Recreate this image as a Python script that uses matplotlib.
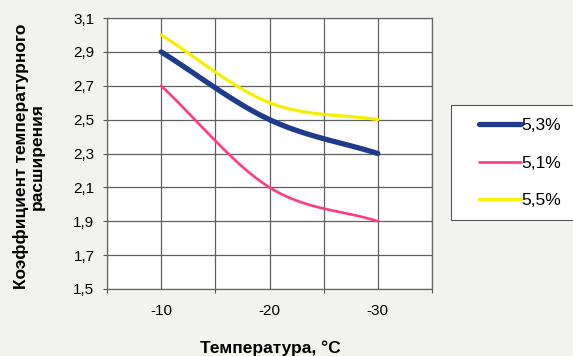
import numpy as np
import matplotlib
matplotlib.use("Agg")
import matplotlib.pyplot as plt
from matplotlib.patches import Rectangle

categories = ["-10", "-20", "-30"]
series_names = ["5,3%", "5,1%", "5,5%"]
s53 = [2.9, 2.5, 2.3]
s51 = [2.7, 2.1, 1.9]
s55 = [3.0, 2.6, 2.5]
yticks = [1.5, 1.7, 1.9, 2.1, 2.3, 2.5, 2.7, 2.9, 3.1]
ytick_labels = ["1,5", "1,7", "1,9", "2,1", "2,3", "2,5", "2,7", "2,9", "3,1"]

plt.rcParams['font.family'] = ['Liberation Sans', 'DejaVu Sans']


def smooth(x, y, n=40):
    # Catmull-Rom spline through points (like Excel smoothed line)
    x = np.asarray(x, float); y = np.asarray(y, float)
    px = np.concatenate([[2 * x[0] - x[1]], x, [2 * x[-1] - x[-2]]])
    py = np.concatenate([[2 * y[0] - y[1]], y, [2 * y[-1] - y[-2]]])
    xs, ys = [], []
    for i in range(1, len(px) - 2):
        t = np.linspace(0, 1, n)
        for arr, out in ((px, xs), (py, ys)):
            p0, p1, p2, p3 = arr[i - 1], arr[i], arr[i + 1], arr[i + 2]
            out.extend(0.5 * ((2 * p1) + (-p0 + p2) * t
                              + (2 * p0 - 5 * p1 + 4 * p2 - p3) * t ** 2
                              + (-p0 + 3 * p1 - 3 * p2 + p3) * t ** 3))
    return np.array(xs), np.array(ys)


fig = plt.figure(figsize=(5.73, 3.56), dpi=100)
fig.patch.set_facecolor('#f2f2f0')
ax = fig.add_axes([107 / 573, 1 - 289 / 356, (432 - 107) / 573, (289 - 18) / 356])
ax.set_facecolor('white')

x = np.arange(len(categories))
colors = ['#1f3c8c', '#ff3c7d', '#f4f000']
widths = [3.8, 1.9, 2.3]
for vals, name, c, lw in zip([s53, s51, s55], series_names, colors, widths):
    sx, sy = smooth(x, vals)
    ax.plot(sx, sy, color=c, lw=lw, label=name, solid_capstyle='round', zorder=3)

ax.set_xlim(-0.5, 2.5)
ax.set_ylim(1.5, 3.1)
ax.set_yticks(yticks)
ax.set_yticklabels(ytick_labels)
ax.set_xticks([-0.5, 0.5, 1.5, 2.5], minor=False)
ax.set_xticklabels([])
ax.set_xticks(x, minor=True)
ax.set_xticklabels(categories, minor=True)
ax.tick_params(axis='x', which='minor', length=0, pad=11, labelsize=11)
ax.tick_params(axis='x', which='major', length=3, direction='out', color='#555555')
ax.tick_params(axis='y', length=3, direction='out', color='#555555', labelsize=11, pad=6)

for xv in [-0.5, 0, 0.5, 1, 1.5, 2, 2.5]:
    ax.axvline(xv, color='#606060', lw=0.9, zorder=1)
for yv in yticks:
    ax.axhline(yv, color='#606060', lw=0.9, zorder=1)
for sp in ax.spines.values():
    sp.set_color('#666666')
    sp.set_linewidth(0.9)

fig.text(270 / 573, 1 - 348 / 356, "Температура, °С", fontsize=12.5, fontweight='bold',
         ha='center', va='center')
fig.text(29 / 573, 1 - 156 / 356, "Коэффициент температурного\nрасширения", fontsize=12.5,
         fontweight='bold', rotation=90, ha='center', va='center', linespacing=1.0)

fig.patches.append(Rectangle((451 / 573, 1 - 220 / 356), 130 / 573, 115 / 356,
                             transform=fig.transFigure, facecolor='white',
                             edgecolor='#555555', lw=0.8))
leg = fig.legend(loc='upper left', bbox_to_anchor=(465 / 573, 1 - 104 / 356),
                 frameon=False, fontsize=12.5, handlelength=2.4, labelspacing=1.3,
                 handletextpad=0.05, borderpad=0.3)

fig.savefig("out.png", dpi=100, facecolor=fig.get_facecolor())
